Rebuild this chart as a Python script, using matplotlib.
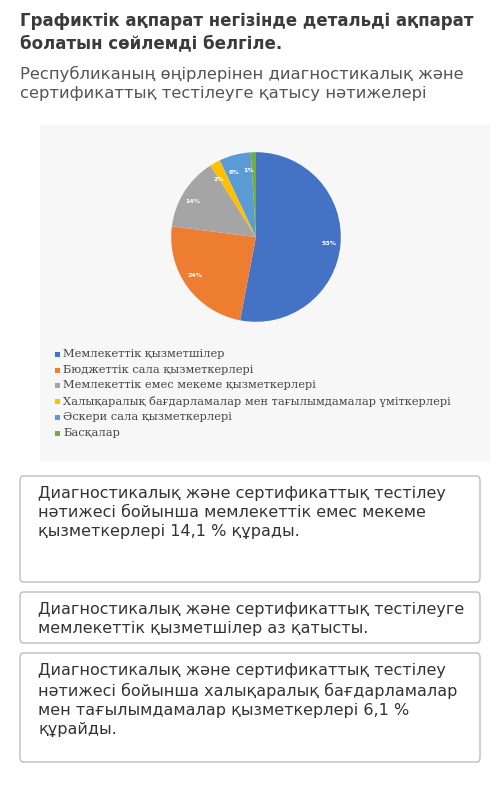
import matplotlib
matplotlib.use("Agg")
import matplotlib.pyplot as plt
from matplotlib.patches import FancyBboxPatch, Rectangle

labels = [
    "Мемлекеттік қызметшілер",
    "Бюджеттік сала қызметкерлері",
    "Мемлекеттік емес мекеме қызметкерлері",
    "Халықаралық бағдарламалар мен тағылымдамалар үміткерлері",
    "Әскери сала қызметкерлері",
    "Басқалар",
]
values = [53, 24, 14, 2, 6, 1]
colors = ["#4472c4", "#ed7d31", "#a5a5a5", "#ffc000", "#5b9bd5", "#70ad47"]

title = "Графиктік ақпарат негізінде детальді ақпарат\nболатын сөйлемді белгіле."
subtitle = "Республиканың өңірлерінен диагностикалық және\nсертификаттық тестілеуге қатысу нәтижелері"
answers = [
    "Диагностикалық және сертификаттық тестілеу\nнәтижесі бойынша мемлекеттік емес мекеме\nқызметкерлері 14,1 % құрады.",
    "Диагностикалық және сертификаттық тестілеуге\nмемлекеттік қызметшілер аз қатысты.",
    "Диагностикалық және сертификаттық тестілеу\nнәтижесі бойынша халықаралық бағдарламалар\nмен тағылымдамалар қызметкерлері 6,1 %\nқұрайды.",
]

W, H = 500, 794
fig = plt.figure(figsize=(W / 100, H / 100), dpi=100)
fig.patch.set_facecolor("white")

def fy(px):
    return 1 - px / H

fig.text(20 / W, fy(12), title, fontsize=12, fontweight="bold", color="#3b3b3b",
         va="top", linespacing=1.3)
fig.text(20 / W, fy(66), subtitle, fontsize=11.8, color="#555555", va="top", linespacing=1.35)

# picture frame
frame = fig.add_axes([40 / W, fy(462), 450 / W, 337 / H])
frame.set_facecolor("#f7f7f7")
frame.axis("off")
frame.add_patch(Rectangle((0, 0), 1, 1, facecolor="#f7f7f7", edgecolor="none"))

ax = fig.add_axes([150 / W, fy(343), 212 / W, 212 / H])
ax.set_zorder(5)
wedges, texts = ax.pie(values, colors=colors, startangle=90, counterclock=False,
                       labels=[f"{v}%" for v in values], labeldistance=0.78,
                       textprops=dict(color="white", fontsize=4.5, fontweight="bold"))
ax.set_aspect("equal")

leg_y = 354
for i, (lab, c) in enumerate(zip(labels, colors)):
    y = leg_y + i * 15.7
    frame.add_patch(Rectangle((15 / 450, (462 - y - 3) / 337), 5 / 450, 5 / 337,
                              facecolor=c, edgecolor="none"))
    fig.text(63 / W, fy(y), lab, fontsize=8.2, family="DejaVu Serif", color="#444444", va="center")

boxes = [(476, 582), (592, 643), (653, 762)]
for (top, bot), txt in zip(boxes, answers):
    fig.patches.append(FancyBboxPatch((20 / W, fy(bot)), 460 / W, (bot - top) / H,
                                      boxstyle="round,pad=0,rounding_size=0.006",
                                      transform=fig.transFigure, facecolor="white",
                                      edgecolor="#bdbdbd", linewidth=1))
    fig.text(38 / W, fy(top + 10), txt, fontsize=11.5, color="#333333", va="top", linespacing=1.35)

fig.savefig("out.png", dpi=100)
